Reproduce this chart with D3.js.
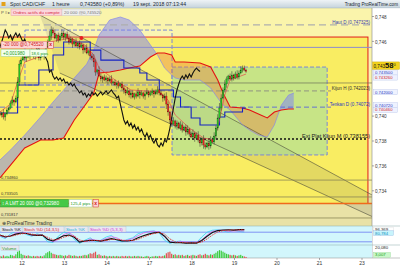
<!DOCTYPE html>
<html>
<head>
<meta charset="utf-8">
<title>Spot CAD/CHF 1 heure</title>
<script src="https://d3js.org/d3.v7.min.js"></script>
<style>
  body { margin: 0; background: #fff; }
  svg { display: block; font-family: "Liberation Sans", Arial, sans-serif; }
</style>
</head>
<body>
<svg id="chart" width="400" height="267"></svg>
<script>
// ---- data ----
const dayLabels = ["12", "13", "14", "17", "18", "19", "20", "21", "23"];
const dayIndex = [0, 1, 2, 3, 4, 5, 6, 7, 8];
// 0,744 and 0,742 sit under the value boxes in the picture
const priceTicks = [0.734, 0.736, 0.738, 0.740, 0.746, 0.748];

// hourly candles, first bar on 11 sept ~11h
const firstBarDay = -0.52;
const barsPerDay = 24;
const firstOpen = 0.74020;
const closes = [
  0.74009,0.74025,0.73993,0.74017,0.74049,0.74065,0.74105,0.74129,0.74113,0.74145,
  0.74274,0.74418,0.74451,0.74483,0.74467,0.74499,0.74475,0.74491,0.74515,0.74483,
  0.74507,0.74491,0.74467,0.74499,0.74483,0.74515,0.74555,0.74595,0.74643,0.74692,
  0.74667,0.74627,0.74651,0.74611,0.74643,0.74667,0.74635,0.74659,0.74627,0.74595,
  0.74619,0.74579,0.74595,0.74563,0.74587,0.74555,0.74571,0.74531,0.74547,0.74507,
  0.74523,0.74483,0.74467,0.74435,0.74354,0.74370,0.74322,0.74298,0.74314,0.74290,
  0.74306,0.74282,0.74298,0.74266,0.74274,0.74250,0.74266,0.74242,0.74258,0.74226,
  0.74210,0.74186,0.74202,0.74170,0.74186,0.74153,0.74178,0.74161,0.74194,0.74170,
  0.74186,0.74161,0.74178,0.74194,0.74170,0.74186,0.74202,0.74178,0.74194,0.74210,
  0.74186,0.74170,0.74145,0.74161,0.74097,0.74033,0.73969,0.73937,0.73961,0.73921,
  0.73945,0.73904,0.73929,0.73888,0.73912,0.73872,0.73896,0.73856,0.73832,0.73864,
  0.73824,0.73848,0.73808,0.73784,0.73816,0.73768,0.73752,0.73784,0.73760,0.73808,
  0.73792,0.73840,0.73904,0.73985,0.74065,0.74145,0.74210,0.74258,0.74298,0.74322,
  0.74298,0.74330,0.74306,0.74338,0.74314,0.74346,0.74370,0.74386,0.74370,0.74358
];
// wicks in pips beyond the body
const upWick = [
  2,1,3,1,2,1,2,3,1,2, 4,3,2,3,1,2,2,1,3,2, 1,2,3,1,2,2,3,2,4,3,
  2,3,1,2,2,3,2,1,2,3, 2,1,2,3,1,2,2,1,2,3, 1,2,2,3,2,1,3,2,1,2,
  2,1,2,3,1,2,1,2,1,2, 2,1,3,1,2,2,1,2,3,1, 2,1,2,3,1,2,2,1,2,3,
  1,2,1,2,3,2,1,2,3,1, 2,1,3,2,1,2,3,1,2,3, 1,2,3,2,1,3,2,1,2,3,
  2,3,2,3,4,3,2,3,2,1, 2,3,1,2,3,2,3,2,2,1
];
const downWick = [
  1,2,2,3,1,2,1,2,3,1, 2,3,2,1,2,3,1,2,1,2, 3,1,2,2,1,3,2,1,2,3,
  2,1,3,2,1,2,2,3,1,2, 1,3,2,1,2,2,1,3,2,1, 2,3,2,4,3,2,1,2,3,1,
  2,3,1,2,2,1,3,2,1,2, 3,2,1,2,3,1,2,2,1,3, 1,2,3,1,2,1,2,3,1,2,
  2,1,3,2,4,3,3,2,1,2, 3,1,2,2,1,3,2,2,1,2, 3,1,2,3,2,3,2,1,3,2,
  1,2,3,2,1,2,1,2,3,2, 1,2,2,1,2,2,1,2,1,1
];
const volumes = [
  4,3,5,3,4,3,6,5,4,7, 12,14,8,6,5,4,5,4,3,4, 3,4,3,4,3,5,9,11,13,10,
  8,7,6,5,6,5,4,5,4,6, 5,4,5,4,3,4,4,5,6,5, 7,9,8,10,12,6,7,5,4,5,
  4,3,4,3,4,3,4,3,3,4, 3,4,3,4,3,3,4,3,4,3, 3,2,3,4,3,2,3,3,4,3,
  4,3,4,5,9,11,12,8,6,7, 5,6,5,6,4,5,6,4,5,6, 5,4,6,7,5,6,8,6,5,7,
  6,8,10,13,15,14,12,10,8,7, 6,5,6,5,4,5,6,4,3,2
];

// Ichimoku, read at these bars
const spanBars = [0,6,14,23,30,36,42,49,53,56,62,68,73,79,85,89,93,97,99,104,113,119,123,126,130,137,141,146,151,155,159,163,166];
const spanA = [0.73647,0.73728,0.73848,0.73993,0.74113,0.74210,0.74306,0.74418,0.74531,0.74651,0.74772,0.74796,0.74772,0.74691,0.74571,0.74491,0.74386,0.74330,0.74306,0.74290,0.74290,0.74226,0.74145,0.74089,0.74049,0.73929,0.73888,0.73848,0.73832,0.73929,0.74089,0.74169,0.74185];
const spanB = [0.73503,0.73607,0.73744,0.73808,0.73808,0.73824,0.73969,0.74105,0.74185,0.74346,0.74354,0.74370,0.74386,0.74402,0.74475,0.74507,0.74507,0.74491,0.74434,0.74434,0.74426,0.74394,0.74290,0.74185,0.74073,0.74065,0.74049,0.74017,0.73985,0.74033,0.74049,0.74057,0.74057];
const kijunBars = [0,10,22,30,36,51,57,70,79,83,90,98,102,108,113,124,127,137,139];
const kijunVals = [0.74025,0.74250,0.74370,0.74491,0.74595,0.74530,0.74450,0.74386,0.74346,0.74290,0.74210,0.74153,0.74073,0.73985,0.73928,0.73993,0.74033,0.74065,0.74065];
const tenkanBars = [0,6,10,14,25,28,40,48,53,56,65,74,90,95,99,107,115,121,124,127,130,139];
const tenkanVals = [0.74033,0.74097,0.74274,0.74434,0.74491,0.74595,0.74627,0.74571,0.74491,0.74386,0.74290,0.74210,0.74194,0.74129,0.74009,0.73904,0.73824,0.73808,0.73969,0.74170,0.74290,0.74338];
const chikouShift = 26;

// stochastics, one value every 3 bars
const stochStep = 3;
const stochK = [62,50,56,68,75,72,63,60,62,35,25,42,58,62,48,18,25,30,28,24,32,40,33,26,25,30,45,58,68,76,80,55,18,14,15,12,13,12,28,55,78,90,94,95,93,96,96];
const stochD = [60,55,54,62,70,73,68,62,61,48,32,35,48,58,55,32,22,27,29,26,28,35,36,30,27,28,36,50,62,72,78,68,38,20,15,14,13,13,18,38,62,82,90,94,94,95,96];
const stochK2 = [55,40,70,85,80,65,55,70,60,20,15,55,80,75,35,10,30,45,20,30,50,60,30,20,35,45,70,82,85,88,75,30,10,20,25,10,20,15,50,80,92,95,88,80,92,85,81];
const stochD2 = [58,48,58,75,82,72,60,62,62,38,20,35,65,78,55,22,22,38,30,28,40,52,45,28,30,40,58,75,84,86,82,50,20,15,22,18,18,18,32,62,85,92,92,85,88,88,88];
const stochLevels = [80, 20];

// drawn objects: [day, price]
const redZone = [[-1, 0.74635], [8.14, 0.73298]];
const greenZone = [[3.53, 0.74394], [7.18, 0.73688]];
const upperZone = [[0.07, 0.74691], [3.53, 0.74250]];
const channelUpper = [[0.42, 0.74812], [8.24, 0.73366]];
const channelLower = [[0.89, 0.74346], [8.24, 0.73193]];
const hautD = 0.747325, kijunH = 0.742023, tenkanD = 0.740720, extKijunM = 0.738155;
const sellOrder = 0.745520, buyLimit = 0.732980, flatLevel = 0.74266;
const lowerLevels = [0.734860, 0.733505, 0.731817];
const lowerLabels = ["0,734860", "0,733505", "0,731817"];
const lastPrice = 0.743580;
const sideLabels = ["0.743500", "0.743260", "0.742000", "0.740720", "0.740460"];
const sidePrices = [0.74350, 0.74326, 0.74200, 0.74072, 0.74046];

// ---- layout ----
const svg = d3.select("#chart");
const plotR = 372, plotT = 8, plotB = 226;
const stT = 226, stB = 245, voT = 245, voB = 258;

const x = d3.scaleLinear().domain([0, 8]).range([22, 362]);
const y = d3.scaleLinear().domain([0.734, 0.748]).range([190.8, 16.5]);
const ys = d3.scaleLinear().domain([0, 100]).range([245, 229]);
const yv = d3.scaleLinear().domain([0, 20]).range([258, 247.5]);
const barT = i => firstBarDay + i / barsPerDay;
const comma = v => v.replace(".", ",");

const defs = svg.append("defs");
defs.append("clipPath").attr("id", "plot").append("rect")
  .attr("x", 0).attr("y", plotT).attr("width", plotR).attr("height", plotB - plotT);
const tg = defs.append("linearGradient").attr("id", "titleg").attr("x1", 0).attr("x2", 0).attr("y1", 0).attr("y2", 1);
tg.append("stop").attr("offset", 0).attr("stop-color", "#eef3f6");
tg.append("stop").attr("offset", 1).attr("stop-color", "#c5d3dc");

// backgrounds
svg.append("rect").attr("width", 400).attr("height", 267).attr("fill", "#fff");
const main = svg.append("g").attr("clip-path", "url(#plot)");
main.append("rect").attr("x", 0).attr("y", plotT).attr("width", plotR).attr("height", plotB - plotT).attr("fill", "#faf4ab");
main.append("rect").attr("x", 0).attr("y", y(buyLimit)).attr("width", plotR).attr("height", plotB - y(buyLimit)).attr("fill", "#e9e2a6");

// red zone
main.append("rect")
  .attr("x", x(redZone[0][0])).attr("y", y(redZone[0][1]))
  .attr("width", x(redZone[1][0]) - x(redZone[0][0]))
  .attr("height", y(redZone[1][1]) - y(redZone[0][1]))
  .attr("fill", "#f9ed62").attr("stroke", "#e21a1a").attr("stroke-width", 1);

// channel
const chPoly = [channelUpper[0], channelUpper[1], channelLower[1], channelLower[0]];
main.append("path").attr("d", "M" + chPoly.map(d => [x(d[0]), y(d[1])].join(",")).join("L") + "Z")
  .attr("fill", "rgba(110,110,100,0.16)");

// zones
function zone(z, fill, stroke) {
  main.append("rect")
    .attr("x", x(z[0][0])).attr("y", y(z[0][1]))
    .attr("width", x(z[1][0]) - x(z[0][0]))
    .attr("height", y(z[1][1]) - y(z[0][1]))
    .attr("fill", fill).attr("stroke", stroke).attr("stroke-width", 1).attr("stroke-dasharray", "4,2");
}
zone(upperZone, "rgba(255,255,255,0.1)", "#7b86d6");
zone(greenZone, "rgba(150,220,170,0.5)", "#7b86d6");

// cloud
const spanPts = spanBars.map((b, k) => ({ t: barT(b), a: spanA[k], b: spanB[k] }));
const aboveB = d3.area().x(d => x(d.t)).y0(plotT).y1(d => y(d.b));
const belowB = d3.area().x(d => x(d.t)).y0(d => y(d.b)).y1(plotB);
defs.append("clipPath").attr("id", "bull").append("path").attr("d", aboveB(spanPts));
defs.append("clipPath").attr("id", "bear").append("path").attr("d", belowB(spanPts));
const cloud = d3.area().x(d => x(d.t)).y0(d => y(d.a)).y1(d => y(d.b));
main.append("g").attr("clip-path", "url(#bull)").append("path").attr("d", cloud(spanPts)).attr("fill", "rgba(120,124,255,0.48)");
main.append("g").attr("clip-path", "url(#bear)").append("path").attr("d", cloud(spanPts)).attr("fill", "rgba(235,120,60,0.38)");

// channel lines
[channelUpper, channelLower].forEach(l => {
  main.append("line").attr("x1", x(l[0][0])).attr("y1", y(l[0][1])).attr("x2", x(l[1][0])).attr("y2", y(l[1][1]))
    .attr("stroke", "#4a4a3a").attr("stroke-width", 0.6);
});

// horizontal levels
function hline(p, color, w, dash, x0, x1) {
  main.append("line").attr("x1", x0 === undefined ? 0 : x0).attr("x2", x1 === undefined ? plotR : x1)
    .attr("y1", y(p)).attr("y2", y(p))
    .attr("stroke", color).attr("stroke-width", w).attr("stroke-dasharray", dash || null);
}
lowerLevels.forEach(p => hline(p, "#8c8656", 0.8));
hline(hautD, "#aeaeae", 1.3, "7,4");
hline(flatLevel, "#5e5e50", 0.6);
hline(kijunH, "#8a8a80", 0.9, "5,3", 0, 331);
hline(tenkanD, "#5a66d8", 0.9, "5,3", 0, 331);
hline(sellOrder, "#8c8ccc", 1);
hline(buyLimit, "#f06a1c", 1.4);
hline(extKijunM, "#111", 1.5, "2,2", 0, 368);

// ichimoku lines
const lineT = d3.line().x(d => x(d.t)).y(d => y(d.p));
main.append("path").attr("d", lineT(spanPts.map(d => ({ t: d.t, p: d.a }))))
  .attr("fill", "none").attr("stroke", "#8a8ae6").attr("stroke-width", 0.7);
main.append("path").attr("d", lineT(spanPts.map(d => ({ t: d.t, p: d.b }))))
  .attr("fill", "none").attr("stroke", "#e41212").attr("stroke-width", 1.1);
main.append("path").attr("d", lineT.curve(d3.curveStepAfter)(kijunBars.map((b, k) => ({ t: barT(b), p: kijunVals[k] }))))
  .attr("fill", "none").attr("stroke", "#1422c4").attr("stroke-width", 1.1);
lineT.curve(d3.curveLinear);
main.append("path").attr("d", lineT(tenkanBars.map((b, k) => ({ t: barT(b), p: tenkanVals[k] }))))
  .attr("fill", "none").attr("stroke", "#e24a4a").attr("stroke-width", 0.7);
main.append("path").attr("d", lineT(closes.map((c, i) => ({ t: barT(i - chikouShift), p: c }))))
  .attr("fill", "none").attr("stroke", "#111").attr("stroke-width", 1.1);

// candles
const candles = closes.map((c, i) => {
  const o = i === 0 ? firstOpen : closes[i - 1];
  return { t: barT(i), o, c, h: Math.max(o, c) + upWick[i] * 0.0001, l: Math.min(o, c) - downWick[i] * 0.0001 };
});
const cg = main.append("g");
cg.selectAll("line").data(candles).join("line")
  .attr("x1", d => x(d.t)).attr("x2", d => x(d.t))
  .attr("y1", d => y(d.h)).attr("y2", d => y(d.l))
  .attr("stroke", "#2a2a2a").attr("stroke-width", 0.5);
cg.selectAll("rect").data(candles).join("rect")
  .attr("x", d => x(d.t) - 0.7).attr("width", 1.4)
  .attr("y", d => y(Math.max(d.o, d.c)))
  .attr("height", d => Math.max(0.8, Math.abs(y(d.o) - y(d.c))))
  .attr("fill", d => d.c >= d.o ? "#22c422" : "#e42222")
  .attr("stroke", d => d.c >= d.o ? "#145214" : "#701010").attr("stroke-width", 0.25);

// order marker
main.append("circle").attr("cx", x(barT(46))).attr("cy", y(0.74627)).attr("r", 2).attr("fill", "#e82020");

// level labels
function ltext(s, xx, p, color, size, anchor, dy) {
  main.append("text").attr("x", xx).attr("y", y(p) + (dy || -1)).attr("fill", color)
    .attr("font-size", size).attr("text-anchor", anchor || "end").text(s);
}
ltext("Haut D (0.747325)", 370, hautD, "#3a44b0", 4.6);
ltext("Kijun H (0.742023)", 370, kijunH, "#333", 4.6);
ltext("Tenkan D (0.74072)", 370, tenkanD, "#2a36c0", 4.6);
ltext("Ext Plat Kijun M (0.738155)", 370, extKijunM, "#222", 5.6, "end", -1.5);
lowerLevels.forEach((p, k) => ltext(lowerLabels[k], 1, p, "#333", 4, "start", -1.5));

// order boxes
function box(g, x0, y0, w, h, fill, stroke) {
  g.append("rect").attr("x", x0).attr("y", y0).attr("width", w).attr("height", h)
    .attr("fill", fill).attr("stroke", stroke).attr("stroke-width", 0.5);
}
function btext(g, s, xx, yy, color, size, weight) {
  g.append("text").attr("x", xx).attr("y", yy).attr("fill", color).attr("font-size", size)
    .attr("font-weight", weight || "normal").text(s);
}
const ob = svg.append("g");
const sy = y(sellOrder);
box(ob, 1, sy - 6, 46, 7, "#fbd6d6", "#e07070");
btext(ob, "-20 000 @0,745520", 3, sy - 1, "#d01818", 4.6);
box(ob, 48, sy - 6, 5.5, 7, "#fbd6d6", "#d03030");
btext(ob, "x", 49.3, sy - 1.2, "#d01818", 5, "bold");
box(ob, 1, sy + 2, 29, 7, "#f4fff0", "#9ccf9c");
btext(ob, "+0,001980", 3, sy + 7.2, "#1a9a1a", 4.6);
box(ob, 30, sy + 2, 17, 7, "#f4fff0", "#9ccf9c");
btext(ob, "18,6 pips", 31.2, sy + 7.2, "#1a9a1a", 4.2);

const by = y(buyLimit);
box(ob, 0.5, by - 4, 68, 7.5, "#46c846", "#2a8a2a");
btext(ob, "\u2195  A LMT   20 000 @0,732980", 2, by + 1.8, "#fff", 4.6);
box(ob, 69, by - 4, 23, 7.5, "#ffffff", "#9ccf9c");
btext(ob, "125,4 pips", 70.5, by + 1.8, "#1a9a1a", 4.3);
box(ob, 93, by - 4, 5.5, 7.5, "#fbd6d6", "#d03030");
btext(ob, "x", 94.3, by + 1.8, "#d01818", 5, "bold");

// active orders tooltip row
box(ob, 11, 9, 51, 6.5, "#fbd6dc", "#e8a0a8");
btext(ob, "Ordres actifs du compte", 13, 13.8, "#d8283c", 4.4);
box(ob, 62, 9, 38, 6.5, "#eeeeee", "#c8c8c8");
btext(ob, "20 000 @0,745520", 64, 13.8, "#777", 4.4);
btext(ob, "P \u2261 \u25B8", 1, 13.8, "#555", 4.2);

// ProRealTime label
btext(ob, "\u2295 ProRealTime Trading", 1.5, 224.5, "#333", 4.8);

// ---- title bar ----
svg.append("rect").attr("width", 400).attr("height", plotT).attr("fill", "url(#titleg)");
svg.append("line").attr("x1", 0).attr("x2", 400).attr("y1", plotT).attr("y2", plotT).attr("stroke", "#9fb0bc").attr("stroke-width", 0.5);
svg.append("rect").attr("x", 1.5).attr("y", 2).attr("width", 4).attr("height", 4).attr("fill", "#e3a21a");
const title = svg.append("g").attr("font-size", 5.2).attr("fill", "#1c2a36");
title.append("text").attr("x", 10).attr("y", 5.8).text("Spot CAD/CHF");
title.append("text").attr("x", 52).attr("y", 5.8).text("1 heure");
title.append("text").attr("x", 80).attr("y", 5.8).text("0,743580 (+0,89%)");
title.append("text").attr("x", 133).attr("y", 5.8).text("19 sept. 2018 07:13:44");
title.append("text").attr("x", 398).attr("y", 5.6).attr("text-anchor", "end").attr("font-size", 4.6).text("Trading ProRealTime.com");

// ---- right price axis ----
svg.append("rect").attr("x", plotR).attr("y", plotT + 0.5).attr("width", 400 - plotR).attr("height", voB - plotT).attr("fill", "#fff");
svg.append("line").attr("x1", plotR).attr("x2", plotR).attr("y1", plotT).attr("y2", voB).attr("stroke", "#888").attr("stroke-width", 0.6);
const ax = svg.append("g");
priceTicks.forEach(p => {
  ax.append("line").attr("x1", plotR).attr("x2", plotR + 2).attr("y1", y(p)).attr("y2", y(p)).attr("stroke", "#555").attr("stroke-width", 0.5);
  ax.append("text").attr("x", plotR + 3).attr("y", y(p) + 2.2).attr("font-size", 4.6).attr("fill", "#333").text(comma(d3.format(".3f")(p)));
});
const sideColors = ["#2a36c0", "#d01818", "#2a36c0", "#2a36c0", "#d01818"];
const sideShift = [0, 2, 1, -2, -0.5];
sidePrices.forEach((p, k) => {
  const yy = y(p) + sideShift[k];
  ax.append("rect").attr("x", plotR + 1.5).attr("y", yy - 2.6).attr("width", 24).attr("height", 5.2)
    .attr("fill", "#eef2ff").attr("stroke", "#b8c4e8").attr("stroke-width", 0.4);
  ax.append("text").attr("x", plotR + 3).attr("y", yy + 1.5).attr("font-size", 4.2).attr("fill", sideColors[k]).text(sideLabels[k]);
});
const ly = y(lastPrice) - 6;
ax.append("rect").attr("x", plotR + 0.5).attr("y", ly - 3.6).attr("width", 27).attr("height", 7.4).attr("fill", "#f2d21a").attr("stroke", "#c8a800").attr("stroke-width", 0.4);
const lt = ax.append("text").attr("x", plotR + 1.5).attr("y", ly + 2.4).attr("fill", "#111");
lt.append("tspan").attr("font-size", 4.6).text("0,743");
lt.append("tspan").attr("font-size", 7.6).attr("font-weight", "bold").text("58");
lt.append("tspan").attr("font-size", 4).attr("dy", -2.4).text("0");

// ---- stochastic panel ----
svg.append("rect").attr("x", 0).attr("y", stT).attr("width", plotR).attr("height", stB - stT).attr("fill", "#d2f6fc");
svg.append("line").attr("x1", 0).attr("x2", 400).attr("y1", stT).attr("y2", stT).attr("stroke", "#8aa").attr("stroke-width", 0.5);
stochLevels.forEach(v => svg.append("line").attr("x1", 0).attr("x2", plotR).attr("y1", ys(v)).attr("y2", ys(v)).attr("stroke", "#6a78f0").attr("stroke-width", 0.8));
const sLine = d3.line().x((d, k) => x(barT(k * stochStep))).y(d => ys(d));
svg.append("path").attr("d", sLine(stochK2)).attr("fill", "none").attr("stroke", "#38d0f0").attr("stroke-width", 0.8);
svg.append("path").attr("d", sLine(stochD2)).attr("fill", "none").attr("stroke", "#e050e8").attr("stroke-width", 0.7);
svg.append("path").attr("d", sLine(stochK)).attr("fill", "none").attr("stroke", "#111").attr("stroke-width", 1.1);
svg.append("path").attr("d", sLine(stochD)).attr("fill", "none").attr("stroke", "#e42222").attr("stroke-width", 0.9).attr("stroke-dasharray", "1.5,1");
const legend = [["Stoch %K", "#111", 1, 21], ["Stoch %D (14,3,5)", "#e02222", 23, 41], ["Stoch %K", "#18b0d8", 65, 23], ["Stoch %D (5,3,3)", "#d030d8", 89, 37]];
legend.forEach(l => {
  svg.append("rect").attr("x", l[2]).attr("y", stT + 0.8).attr("width", l[3]).attr("height", 5.2)
    .attr("fill", "#e8e8f0").attr("stroke", "#b0b0c0").attr("stroke-width", 0.3);
  svg.append("text").attr("x", l[2] + 1).attr("y", stT + 4.9).attr("font-size", 4.3).attr("fill", l[1]).text(l[0]);
});
svg.append("rect").attr("x", plotR + 1.5).attr("y", ys(96.369) - 2.5).attr("width", 20).attr("height", 5).attr("fill", "#fff").attr("stroke", "#ccc").attr("stroke-width", 0.3);
svg.append("text").attr("x", plotR + 3).attr("y", ys(96.369) + 1.6).attr("font-size", 4.3).attr("fill", "#222").text("96,369");
svg.append("rect").attr("x", plotR + 1.5).attr("y", ys(80.784) - 1.5).attr("width", 20).attr("height", 5).attr("fill", "#c8f4fc").attr("stroke", "#8ad").attr("stroke-width", 0.3);
svg.append("text").attr("x", plotR + 3).attr("y", ys(80.784) + 2.6).attr("font-size", 4.3).attr("fill", "#1090c0").text("80,784");

// ---- volume panel ----
svg.append("rect").attr("x", 0).attr("y", voT).attr("width", plotR).attr("height", voB - voT).attr("fill", "#d2f6fc");
svg.append("line").attr("x1", 0).attr("x2", 400).attr("y1", voT).attr("y2", voT).attr("stroke", "#8aa").attr("stroke-width", 0.5);
svg.append("line").attr("x1", 0).attr("x2", 400).attr("y1", voB).attr("y2", voB).attr("stroke", "#888").attr("stroke-width", 0.5);
svg.append("g").selectAll("rect").data(candles).join("rect")
  .attr("x", d => x(d.t) - 0.6).attr("width", 1.2)
  .attr("y", (d, i) => yv(volumes[i])).attr("height", (d, i) => voB - yv(volumes[i]))
  .attr("fill", d => d.c >= d.o ? "#3ccc3c" : "#e45050");
svg.append("rect").attr("x", 1).attr("y", voT + 0.6).attr("width", 18).attr("height", 5).attr("fill", "#e8e8f0").attr("stroke", "#b0b0c0").attr("stroke-width", 0.3);
svg.append("text").attr("x", 2).attr("y", voT + 4.6).attr("font-size", 4.3).attr("fill", "#2a9a2a").text("Volume");
svg.append("text").attr("x", plotR + 3).attr("y", yv(20) + 1.8).attr("font-size", 4.3).attr("fill", "#222").text("20,080");
svg.append("rect").attr("x", plotR + 1.5).attr("y", yv(3.007) - 4).attr("width", 17).attr("height", 5).attr("fill", "#c8f8c8").attr("stroke", "#8c8").attr("stroke-width", 0.3);
svg.append("text").attr("x", plotR + 3).attr("y", yv(3.007) - 0.1).attr("font-size", 4.3).attr("fill", "#1a9a1a").text("3,007");

// ---- time axis ----
const xa = svg.append("g");
dayIndex.forEach((d, k) => {
  xa.append("line").attr("x1", x(d)).attr("x2", x(d)).attr("y1", voB).attr("y2", voB + 2).attr("stroke", "#555").attr("stroke-width", 0.5);
  xa.append("text").attr("x", x(d)).attr("y", 264.5).attr("text-anchor", "middle").attr("font-size", 5).attr("fill", "#333").text(dayLabels[k]);
});
</script>
</body>
</html>
